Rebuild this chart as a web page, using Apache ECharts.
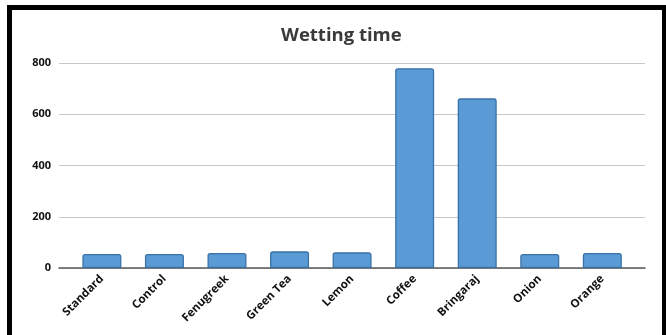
<!DOCTYPE html>
<html>
<head>
<meta charset="utf-8">
<script src="https://cdn.jsdelivr.net/npm/echarts@6/dist/echarts.min.js"></script>
<style>
  html, body { margin: 0; padding: 0; background: #fff; overflow: hidden; }
  #frame {
    position: absolute; left: 7px; top: 5px; width: 650px; height: 340px;
    border: 5px solid #000; border-right-width: 4px; border-bottom: none; box-sizing: content-box;
  }
  #chart { position: absolute; left: 0; top: 0; width: 666px; height: 335px; }
</style>
</head>
<body>
<div id="frame"></div>
<div id="chart"></div>
<script>
// Wetting time per sample
const categories = ['Standard', 'Control', 'Fenugreek', 'Green Tea', 'Lemon', 'Coffee', 'Bringaraj', 'Onion', 'Orange'];
const wettingTime = [55, 55, 59, 65, 61, 780, 662, 55, 59];
const yTicks = { min: 0, max: 800, interval: 200 };

const chart = echarts.init(document.getElementById('chart'), null, { renderer: 'canvas' });

const labelFont = { fontFamily: 'Open Sans', fontWeight: 'bold', fontSize: 11.5, color: '#111' };

chart.setOption({
  animation: false,
  title: {
    text: 'Wetting time',
    left: 276,
    top: 21,
    textStyle: { fontFamily: 'Open Sans', fontWeight: 'bold', fontSize: 18.5, color: '#3a3a3a' }
  },
  grid: [
    // plot area: gridlines and the baseline span the full width
    { left: 59, right: 21, top: 63, bottom: 67 },
    // category band holding the bars, inset from the plot edges
    { left: 70.6, right: 32.4, top: 63, bottom: 67 }
  ],
  xAxis: [
    {
      gridIndex: 0, type: 'category', data: [''],
      axisLine: { show: true, lineStyle: { color: '#595959', width: 1.5 } },
      axisTick: { show: false }, axisLabel: { show: false }
    },
    {
      gridIndex: 1, type: 'category', data: categories,
      axisLine: { show: false }, axisTick: { show: false },
      axisLabel: { interval: 0, rotate: 45, margin: 9, ...labelFont }
    }
  ],
  yAxis: [
    {
      gridIndex: 0, type: 'value', ...yTicks,
      axisLine: { show: false }, axisTick: { show: false },
      axisLabel: { margin: 8, ...labelFont, fontSize: 11 },
      splitLine: { lineStyle: { color: '#c8c8c8', width: 1 } }
    },
    {
      gridIndex: 1, type: 'value', ...yTicks, show: false,
      splitLine: { show: false }
    }
  ],
  series: [{
    type: 'bar',
    xAxisIndex: 1, yAxisIndex: 1,
    data: wettingTime,
    barWidth: 39,
    itemStyle: { color: '#5B9BD5', borderColor: '#3A72A8', borderWidth: 1.3, borderRadius: [2, 2, 0, 0] },
    z: 3
  }]
});
</script>
</body>
</html>
